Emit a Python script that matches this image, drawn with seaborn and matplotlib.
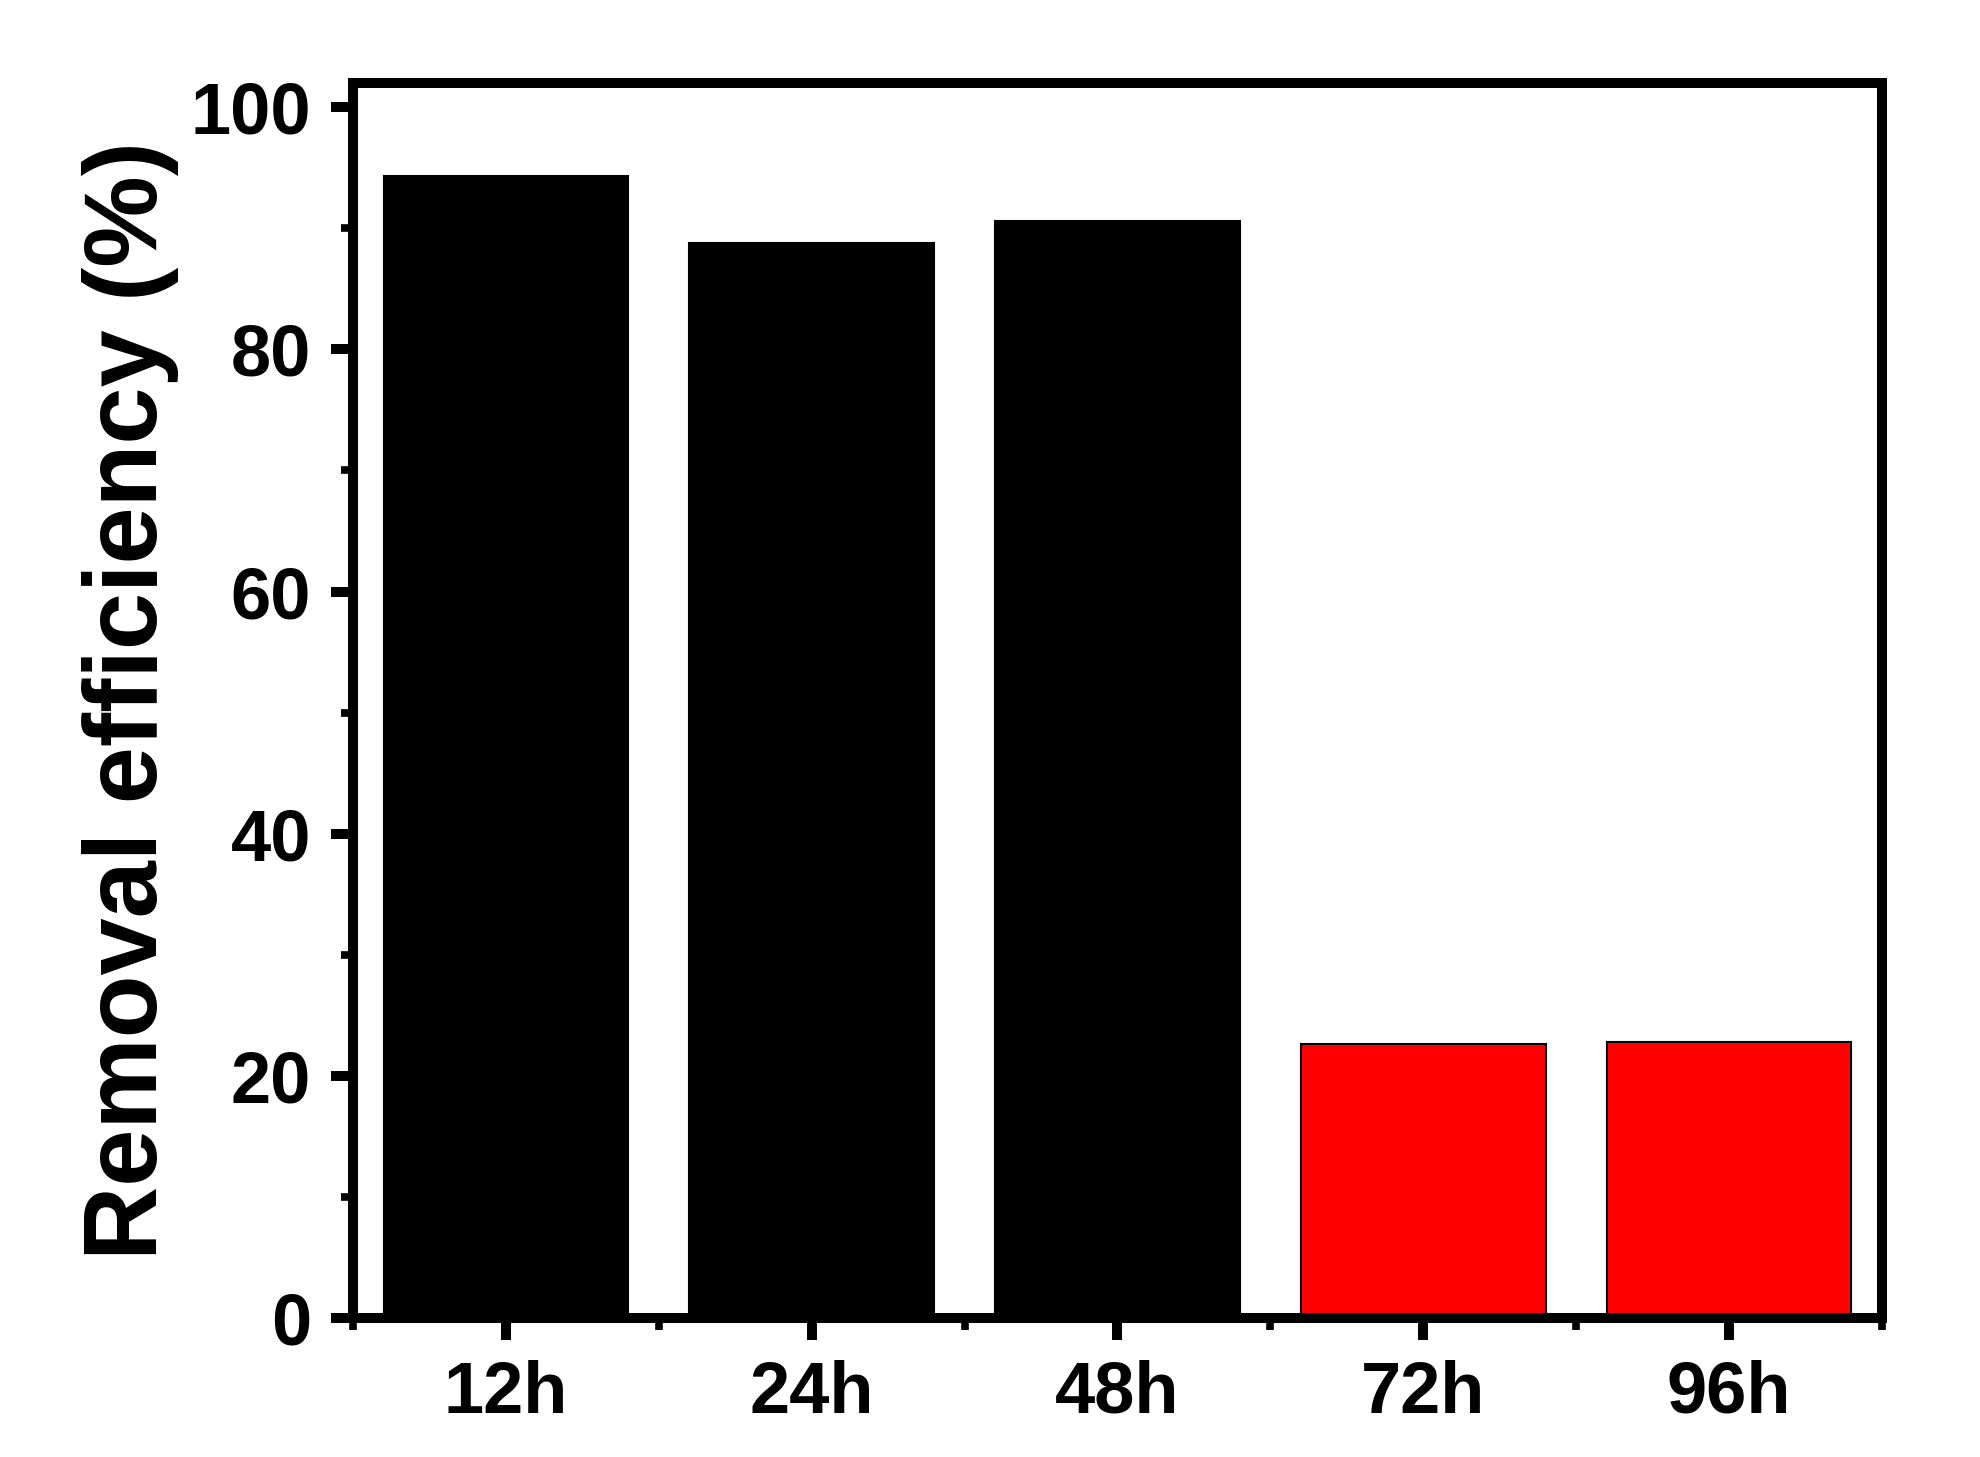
import matplotlib
matplotlib.use('Agg')
import matplotlib.pyplot as plt
import seaborn as sns
from matplotlib.ticker import MultipleLocator, FixedLocator

# 데이터
times = ['12h', '24h', '48h', '72h', '96h']
removal = [94.3, 88.8, 90.6, 22.6, 22.8]
bar_colors = ['#000000', '#000000', '#000000', '#ff0000', '#ff0000']

sns.set_style('ticks')
plt.rcParams['font.family'] = ['Liberation Sans', 'DejaVu Sans']
plt.rcParams['font.weight'] = 'bold'
plt.rcParams['text.color'] = 'black'
plt.rcParams['axes.labelcolor'] = 'black'
plt.rcParams['xtick.color'] = 'black'
plt.rcParams['ytick.color'] = 'black'

fig = plt.figure(figsize=(19.81, 14.57), dpi=100)
ax = fig.add_axes([0.1782, 0.0954, 0.7718, 0.8476])

sns.barplot(x=times, y=removal, hue=times, palette=bar_colors, legend=False,
            width=0.8, saturation=1, edgecolor='black', linewidth=1.5, ax=ax)

ax.set_xlim(-0.5, 4.5)
ax.set_ylim(0, 102)
ax.yaxis.set_major_locator(MultipleLocator(20))
ax.yaxis.set_minor_locator(MultipleLocator(10))
ax.xaxis.set_minor_locator(FixedLocator([-0.5, 0.5, 1.5, 2.5, 3.5, 4.5]))

for s in ax.spines.values():
    s.set_visible(True)
    s.set_linewidth(7.2)
    s.set_color('black')

ax.tick_params(which='major', direction='out', length=16, width=7.2,
               labelsize=52, pad=14, color='black', labelcolor='black')
ax.tick_params(which='minor', direction='out', length=8.5, width=5.5, color='black')

for lab in ax.get_xticklabels() + ax.get_yticklabels():
    lab.set_fontweight('bold')

ax.set_xlabel('')
ax.set_ylabel('Removal efficiency (%)', fontsize=74, fontweight='bold', color='black')
ax.yaxis.set_label_coords(-0.114, 0.5)

fig.savefig('out.png', dpi=100)
